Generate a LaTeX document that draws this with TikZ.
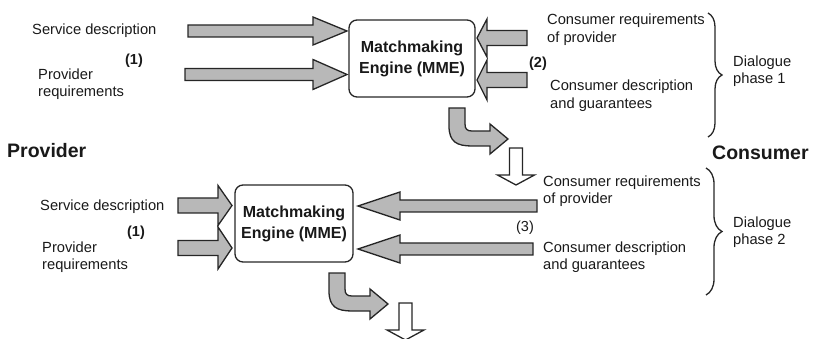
\documentclass[tikz,border=0pt]{standalone}
\usepackage{fontspec}
\setmainfont{Liberation Sans}
\usetikzlibrary{decorations.pathreplacing}
\tikzset{
  blockarrow/.style={fill=black!28, draw=black!85, line width=1.3pt, line join=miter},
  whitearrow/.style={fill=white, draw=black!85, line width=1.3pt, line join=miter},
  lbl/.style={anchor=west, inner sep=0pt, align=left, text=black!90, font=\fontsize{14.7}{17.5}\selectfont},
  num/.style={inner sep=0pt, text=black!90, font=\fontsize{14.5}{17}\selectfont\bfseries},
  side/.style={anchor=west, inner sep=0pt, text=black!90, font=\fontsize{19.5}{22}\selectfont\bfseries},
  mme/.style={draw=black!85, line width=1.3pt, rounded corners=8pt, align=center, inner sep=0pt,
     text=black!90, font=\fontsize{16}{21}\selectfont\bfseries},
  bracestyle/.style={draw=black!85, line width=1.3pt, decorate, decoration={brace, amplitude=#1}},
  curvearrow/.pic={
    \path[blockarrow] (0,0) -- (0,18) .. controls (0,34) and (8,38) .. (23,38) -- (41,38) -- (41,46)
       -- (59,31) -- (41,16) -- (41,23) -- (23,23) .. controls (18,23) and (16,21) .. (16,16) -- (16,0) -- cycle;
  },
  downarrow/.pic={
    \path[whitearrow] (-6.5,0) -- (-6.5,27) -- (-18.5,27) -- (0,37) -- (18.5,27) -- (6.5,27) -- (6.5,0) -- cycle;
  }
}
% #1 tail x, #2 tip x, #3 y, #4 shaft half width, #5 head half width, #6 head length (signed)
\newcommand{\harr}[6]{%
  \path[blockarrow] ({#1},{#3-#4}) -- ({#2-(#6)},{#3-#4}) -- ({#2-(#6)},{#3-#5}) -- ({#2},{#3})
    -- ({#2-(#6)},{#3+#5}) -- ({#2-(#6)},{#3+#4}) -- ({#1},{#3+#4}) -- cycle;}
\begin{document}
\begin{tikzpicture}[x=1pt,y=-1pt]
\useasboundingbox (0,0) rectangle (814,339);

% ---------- dialogue phase 1 ----------
\node[mme, minimum width=126pt, minimum height=77pt] (mme1) at (412,58.5) {Matchmaking\\Engine (MME)};
\node[lbl] (sd1) at (32,31) {Service description};
\node[num] (one1) at (134,61) {(1)};
\node[lbl] (pr1) at (38,84) {Provider\\requirements};
\node[lbl] (crp1) at (547,29.5) {Consumer requirements\\of provider};
\node[num] (two) at (538,64) {(2)};
\node[lbl] (cdg1) at (550,95.5) {Consumer description\\and guarantees};
\node[lbl] (dp1) at (733,71) {Dialogue\\phase 1};

\harr{188}{347}{31}{6}{14}{34}
\harr{185}{347}{74.5}{6}{15}{34}
\harr{527}{477}{38}{7.5}{19}{-10}
\harr{527}{477}{80}{7.5}{20}{-10}

\draw[bracestyle=14pt] (708,13) -- (708,137);
\pic at (449,108) {curvearrow};
\pic at (516,148) {downarrow};

% ---------- side labels ----------
\node[side] (prov) at (7,151) {Provider};
\node[side] (cons) at (712,153) {Consumer};

% ---------- dialogue phase 2 ----------
\node[mme, minimum width=118pt, minimum height=77pt] (mme2) at (294,223.5) {Matchmaking\\Engine (MME)};
\node[lbl] (sd2) at (40,207) {Service description};
\node[num] (one2) at (136,233) {(1)};
\node[lbl] (pr2) at (42,257) {Provider\\requirements};
\node[lbl] (crp2) at (543,191) {Consumer requirements\\of provider};
\node[num, font=\fontsize{14.5}{17}\selectfont] (three) at (525,228) {(3)};
\node[lbl] (cdg2) at (543,257) {Consumer description\\and guarantees};
\node[lbl] (dp2) at (733,232) {Dialogue\\phase 2};

\harr{178}{232}{205.5}{7.5}{20}{14}
\harr{178}{232}{248}{7.5}{21}{14}
\harr{537}{358}{206}{6}{14}{-42}
\harr{533}{358}{249}{6}{14}{-42}

\draw[bracestyle=16pt] (706,168) -- (706,295);
\pic at (329,273) {curvearrow};
\pic at (405.5,303) {downarrow};
\end{tikzpicture}
\end{document}
